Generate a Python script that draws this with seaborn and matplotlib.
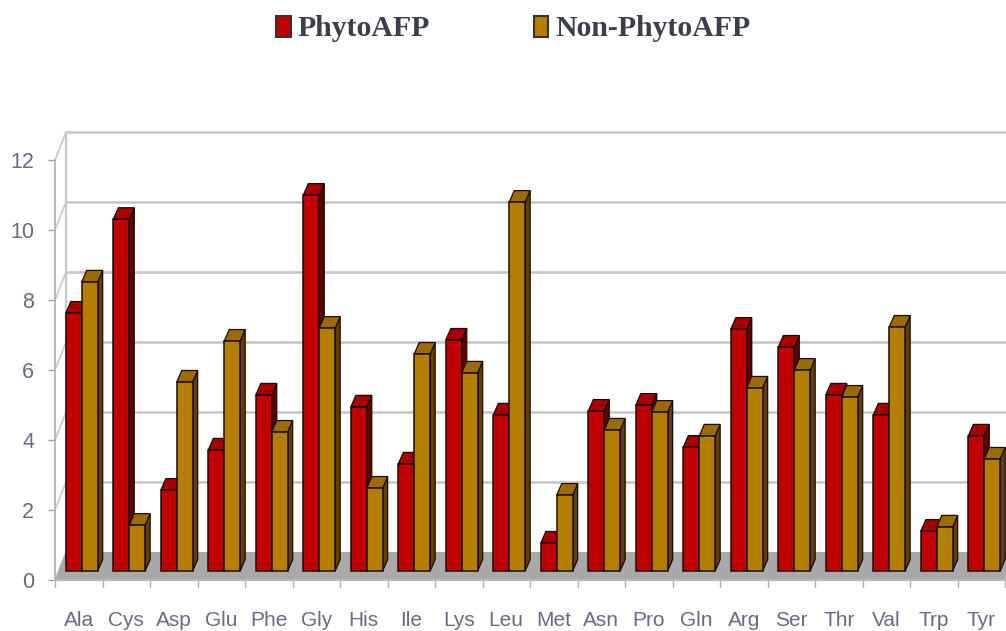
#!/usr/bin/env python3
"""Amino acid composition of PhytoAFP vs Non-PhytoAFP, Excel style 3D bars."""

import matplotlib
matplotlib.use("Agg")
import matplotlib.pyplot as plt
from matplotlib.patches import Polygon
import pandas as pd
import seaborn as sns

amino_acids = ["Ala", "Cys", "Asp", "Glu", "Phe", "Gly", "His", "Ile", "Lys", "Leu",
               "Met", "Asn", "Pro", "Gln", "Arg", "Ser", "Thr", "Val", "Trp", "Tyr"]
phyto_afp = [7.37, 10.05, 2.31, 3.46, 5.03, 10.74, 4.69, 3.06, 6.6, 4.46,
             0.8, 4.57, 4.74, 3.54, 6.91, 6.4, 5.03, 4.46, 1.14, 3.86]
non_phyto_afp = [8.26, 1.31, 5.4, 6.57, 3.97, 6.94, 2.37, 6.2, 5.66, 10.54,
                 2.17, 4.03, 4.54, 3.86, 5.23, 5.74, 4.97, 6.97, 1.26, 3.2]
series_names = ["PhytoAFP", "Non-PhytoAFP"]
y_ticks = [0, 2, 4, 6, 8, 10, 12]

FRONT = {"PhytoAFP": "#C00000", "Non-PhytoAFP": "#B47F00"}
TOP = {"PhytoAFP": "#A80000", "Non-PhytoAFP": "#9C6C00"}
SIDE = {"PhytoAFP": "#600000", "Non-PhytoAFP": "#644000"}
GRID = "#C8C8C8"
LABEL = "#6A6A82"

# pixel sizes of the fake perspective, turned into data units below
PX_X = 47.5
PX_Y = 35.0
WALL_DX, WALL_DY = 11 / PX_X, 28 / PX_Y
BAR_DX, BAR_DY = 3 / PX_X, 9 / PX_Y
DEPTH_DX, DEPTH_DY = 5 / PX_X, 11.5 / PX_Y


def draw_walls(ax):
    # floor
    floor = [(-0.5, 0), (19.5, 0), (19.5 + WALL_DX, WALL_DY), (-0.5 + WALL_DX, WALL_DY)]
    ax.add_patch(Polygon(floor, closed=True, color="#A9A9A9", lw=0, zorder=1, clip_on=False))
    # back wall and left wall lines
    for y in y_ticks:
        if y > 0:
            ax.plot([-0.5 + WALL_DX, 19.5 + WALL_DX], [y + WALL_DY] * 2, color=GRID, lw=1.9,
                    zorder=0.5, clip_on=False)
        ax.plot([-0.5, -0.5 + WALL_DX], [y, y + WALL_DY], color=GRID, lw=1.2, zorder=0.5,
                clip_on=False)
    ax.plot([-0.5 + WALL_DX] * 2, [WALL_DY, 12 + WALL_DY], color=GRID, lw=1.6, zorder=0.5,
            clip_on=False)


def draw_bars_3d(ax):
    base = 2.0
    for name, container in zip(series_names, ax.containers):
        for i, bar in enumerate(container):
            bar.set_x(bar.get_x() + BAR_DX)
            bar.set_y(bar.get_y() + BAR_DY)
            x0, x1 = bar.get_x(), bar.get_x() + bar.get_width()
            y0, y1 = bar.get_y(), bar.get_y() + bar.get_height()
            order = base + i + (0.5 if name == series_names[1] else 0)
            side = [(x1, y0), (x1 + DEPTH_DX, y0 + DEPTH_DY), (x1 + DEPTH_DX, y1 + DEPTH_DY), (x1, y1)]
            top = [(x0, y1), (x1, y1), (x1 + DEPTH_DX, y1 + DEPTH_DY), (x0 + DEPTH_DX, y1 + DEPTH_DY)]
            ax.add_patch(Polygon(side, closed=True, fc=SIDE[name], ec="#1A0A00", lw=0.9,
                                 zorder=order, clip_on=False))
            ax.add_patch(Polygon(top, closed=True, fc=TOP[name], ec="#1A0A00", lw=0.9,
                                 zorder=order + 0.1, clip_on=False))
            bar.set_zorder(order + 0.2)
            bar.set_clip_on(False)


def main():
    sns.set_theme(style="white")
    plt.rcParams["font.family"] = ["Liberation Sans"]

    df = pd.DataFrame({
        "residue": amino_acids * 2,
        "composition": phyto_afp + non_phyto_afp,
        "group": [series_names[0]] * len(amino_acids) + [series_names[1]] * len(amino_acids),
    })

    fig = plt.figure(figsize=(10.06, 6.31), dpi=100)
    ax = fig.add_axes([55 / 1006, (631 - 580) / 631, 950 / 1006, 420 / 631])
    ax.patch.set_alpha(0)

    sns.barplot(data=df, x="residue", y="composition", hue="group", palette=FRONT,
                width=0.67, saturation=1, edgecolor="#1A0A00", linewidth=1.1, ax=ax)

    ax.set_xlim(-0.5, 19.5)
    ax.set_ylim(0, 12)
    ax.set_yticks(y_ticks)
    ax.set_xlabel("")
    ax.set_ylabel("")

    draw_walls(ax)
    draw_bars_3d(ax)

    # x ticks sit between the categories
    ax.set_xticks(range(len(amino_acids)), amino_acids)
    ax.tick_params(axis="x", length=0, pad=22, labelsize=15, labelcolor=LABEL)
    ax.tick_params(axis="y", length=5, width=1, color="#A0A0A0", pad=10, labelsize=15.5,
                   labelcolor=LABEL, left=True)
    for i in range(len(amino_acids) + 1):
        ax.plot([i - 0.5, i - 0.5], [0, -7 / PX_Y], color="#B0B0B0", lw=1, clip_on=False, zorder=1)

    for side in ["top", "right"]:
        ax.spines[side].set_visible(False)
    ax.spines["left"].set_color("#B0B0B0")
    ax.spines["bottom"].set_color("#B8B8B8")
    ax.spines["bottom"].set_linewidth(1.5)

    handles, labels = ax.get_legend_handles_labels()
    for h in handles:
        h.set_edgecolor("#333333")
        h.set_linewidth(1.5)
    ax.legend(handles, labels, ncol=2, loc="center", frameon=False,
              bbox_to_anchor=(513.5 / 1006, 1 - 29 / 631), bbox_transform=fig.transFigure,
              prop={"family": "Liberation Serif", "weight": "bold", "size": 21.4},
              labelcolor="#3A3F4A", handlelength=0.48, handleheight=0.7, handletextpad=0.24,
              columnspacing=3.5)

    fig.savefig("out.png", dpi=100)


if __name__ == "__main__":
    main()
